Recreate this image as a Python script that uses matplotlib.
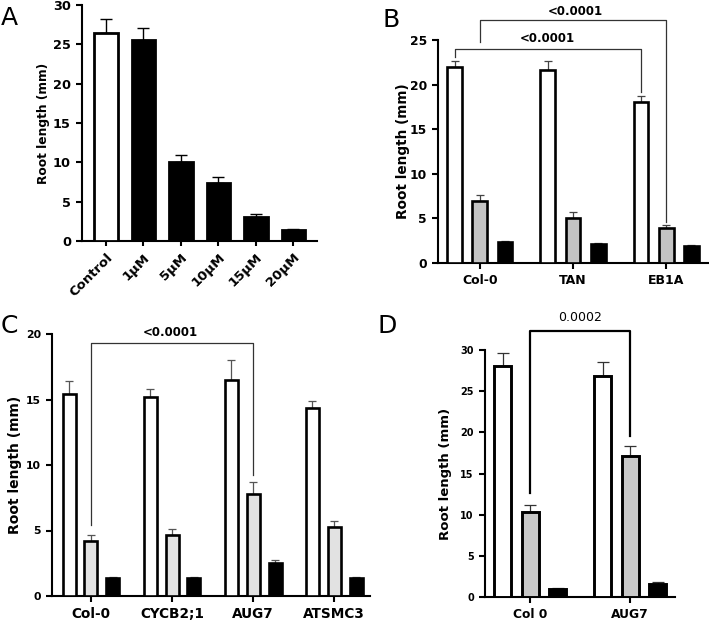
import numpy as np
import matplotlib
matplotlib.use("Agg")
import matplotlib.pyplot as plt

plt.rcParams["font.family"] = ["DejaVu Sans"]

# panel A
a_labels = ["Control", "1μM", "5μM", "10μM", "15μM", "20μM"]
a_vals = [26.5, 25.55, 10.0, 7.35, 3.05, 1.36]
a_errs = [1.7, 1.55, 0.95, 0.75, 0.42, 0.17]

# panel B
b_groups = ["Col-0", "TAN", "EB1A"]
b_white = [22.0, 21.6, 18.0]
b_white_err = [0.6, 1.0, 0.75]
b_gray = [6.98, 5.1, 3.92]
b_gray_err = [0.6, 0.57, 0.33]
b_black = [2.31, 2.13, 1.87]
b_black_err = [0.18, 0.11, 0.1]

# panel C
c_groups = ["Col-0", "CYCB2;1", "AUG7", "ATSMC3"]
c_white = [15.45, 15.2, 16.5, 14.35]
c_white_err = [0.95, 0.6, 1.5, 0.5]
c_gray = [4.2, 4.68, 7.8, 5.3]
c_gray_err = [0.43, 0.46, 0.9, 0.4]
c_black = [1.37, 1.35, 2.5, 1.35]
c_black_err = [0.07, 0.07, 0.25, 0.07]

# panel D
d_groups = ["Col 0", "AUG7"]
d_white = [28.1, 26.8]
d_white_err = [1.5, 1.7]
d_gray = [10.3, 17.15]
d_gray_err = [0.85, 1.15]
d_black = [1.0, 1.6]
d_black_err = [0.1, 0.2]

W, H = 709, 624
fig = plt.figure(figsize=(W / 100, H / 100), dpi=100)


def add_axes(left, right, top, bottom):
    return fig.add_axes([left / W, 1 - bottom / H, (right - left) / W, (bottom - top) / H])


def style(ax, lw=1.5):
    for s in ["top", "right"]:
        ax.spines[s].set_visible(False)
    for s in ["left", "bottom"]:
        ax.spines[s].set_linewidth(lw)
    ax.tick_params(width=lw, length=4.5)


def bars(ax, x, vals, errs, width, color, ecolor="black", cap=3, lw=1.9):
    ax.bar(x, vals, width, color=color, edgecolor="black", linewidth=lw, zorder=3)
    ax.errorbar(x, vals, yerr=[np.zeros(len(vals)), errs], fmt="none",
                ecolor=ecolor, elinewidth=0.9, capsize=cap, capthick=0.9, zorder=2)


def bracket(ax, x1, y1, x2, y2, ytop, text, ty, tx=None, color="#333333", lw=0.9,
            weight="bold", size=8.5):
    ax.plot([x1, x1, x2, x2], [y1, ytop, ytop, y2], color=color, lw=lw,
            clip_on=False, zorder=4)
    if tx is None:
        tx = (x1 + x2) / 2
    ax.text(tx, ty, text, ha="center", va="center", fontsize=size,
            fontweight=weight, clip_on=False)


def panel_letter(x, y, s):
    fig.text(x / W, 1 - y / H, s, fontsize=18, ha="left", va="baseline")


# ---- A
ax = add_axes(82, 317, 5, 241)
xa = np.arange(len(a_labels))
colors_a = ["white"] + ["black"] * (len(a_labels) - 1)
ax.bar(xa, a_vals, 0.62, color=colors_a, edgecolor="black", linewidth=2.0, zorder=3)
ax.errorbar(xa, a_vals, yerr=[np.zeros(len(a_vals)), a_errs], fmt="none",
            ecolor="black", elinewidth=1.0, capsize=4, capthick=1.0, zorder=2)
ax.set_xlim(-0.64, 5.63)
ax.set_ylim(0, 30)
ax.set_yticks(range(0, 31, 5))
ax.set_xticks(xa)
ax.set_xticklabels(a_labels, rotation=45, ha="right", rotation_mode="anchor",
                   fontsize=9.5, fontweight="bold")
style(ax)
ax.tick_params(axis="x", length=3.5)
ax.tick_params(axis="y", labelsize=9.3)
for t in ax.get_yticklabels():
    t.set_fontweight("bold")
ax.set_ylabel("Root length (mm)", fontsize=8.8, fontweight="bold")
ax.yaxis.set_label_coords(-0.136, 0.5)
panel_letter(1, 25, "A")

# ---- B
ax = add_axes(438, 708, 40, 263)
xb = np.arange(len(b_groups))
off, bw = 0.27, 0.16
bars(ax, xb - off, b_white, b_white_err, bw, "white", "#444444")
bars(ax, xb, b_gray, b_gray_err, bw, "#c4c4c4", "#444444")
bars(ax, xb + off, b_black, b_black_err, bw, "black", "#444444")
ax.set_xlim(-0.45, 2.45)
ax.set_ylim(0, 25)
ax.set_yticks(range(0, 26, 5))
ax.set_xticks(xb)
ax.set_xticklabels(b_groups, fontsize=9, fontweight="bold")
style(ax)
ax.tick_params(axis="y", labelsize=8.8)
for t in ax.get_yticklabels():
    t.set_fontweight("bold")
ax.set_ylabel("Root length (mm)", fontsize=9.8, fontweight="bold")
ax.yaxis.set_label_coords(-0.104, 0.5)
bracket(ax, -off, 23.1, 2 - off, 19.2, 23.95, "<0.0001", 25.2, tx=0.72)
bracket(ax, 0, 24.8, 2, 4.6, 27.2, "<0.0001", 28.2, tx=1.02)
panel_letter(382, 27, "B")

# ---- C
ax = add_axes(52, 370, 334, 596)
xc = np.arange(len(c_groups))
off, bw = 0.27, 0.16
bars(ax, xc - off, c_white, c_white_err, bw, "white", "#555555")
bars(ax, xc, c_gray, c_gray_err, bw, "#e2e2e2", "#555555")
bars(ax, xc + off, c_black, c_black_err, bw, "black", "#555555")
ax.set_xlim(-0.48, 3.44)
ax.set_ylim(0, 20)
ax.set_yticks(range(0, 21, 5))
ax.set_xticks(xc)
ax.set_xticklabels(c_groups, fontsize=9.8, fontweight="bold")
style(ax)
ax.tick_params(axis="y", labelsize=7.8)
for t in ax.get_yticklabels():
    t.set_fontweight("bold")
ax.set_ylabel("Root length (mm)", fontsize=10, fontweight="bold")
ax.yaxis.set_label_coords(-0.094, 0.5)
bracket(ax, 0, 5.4, 2, 9.2, 19.3, "<0.0001", 20.1, tx=0.98)
panel_letter(1, 333, "C")

# ---- D
ax = add_axes(485, 675, 350, 597)
xd = np.arange(len(d_groups))
off, bw = 0.275, 0.17
bars(ax, xd - off, d_white, d_white_err, bw, "white", "#333333", cap=4, lw=2.1)
bars(ax, xd, d_gray, d_gray_err, bw, "#c8c8c8", "#333333", cap=4, lw=2.1)
bars(ax, xd + off, d_black, d_black_err, bw, "black", "#333333", cap=4, lw=2.1)
ax.set_xlim(-0.45, 1.45)
ax.set_ylim(0, 30)
ax.set_yticks(range(0, 31, 5))
ax.set_xticks(xd)
ax.set_xticklabels(d_groups, fontsize=8.8, fontweight="bold")
style(ax)
ax.tick_params(axis="y", labelsize=7)
for t in ax.get_yticklabels():
    t.set_fontweight("bold")
ax.set_ylabel("Root length (mm)", fontsize=9.5, fontweight="bold")
ax.yaxis.set_label_coords(-0.174, 0.5)
bracket(ax, 0, 12.6, 1, 19.5, 32.3, "0.0002", 33.9, tx=0.5, color="black",
        lw=1.6, weight="normal", size=9)
panel_letter(378, 333, "D")

fig.savefig("out.png", dpi=100)
